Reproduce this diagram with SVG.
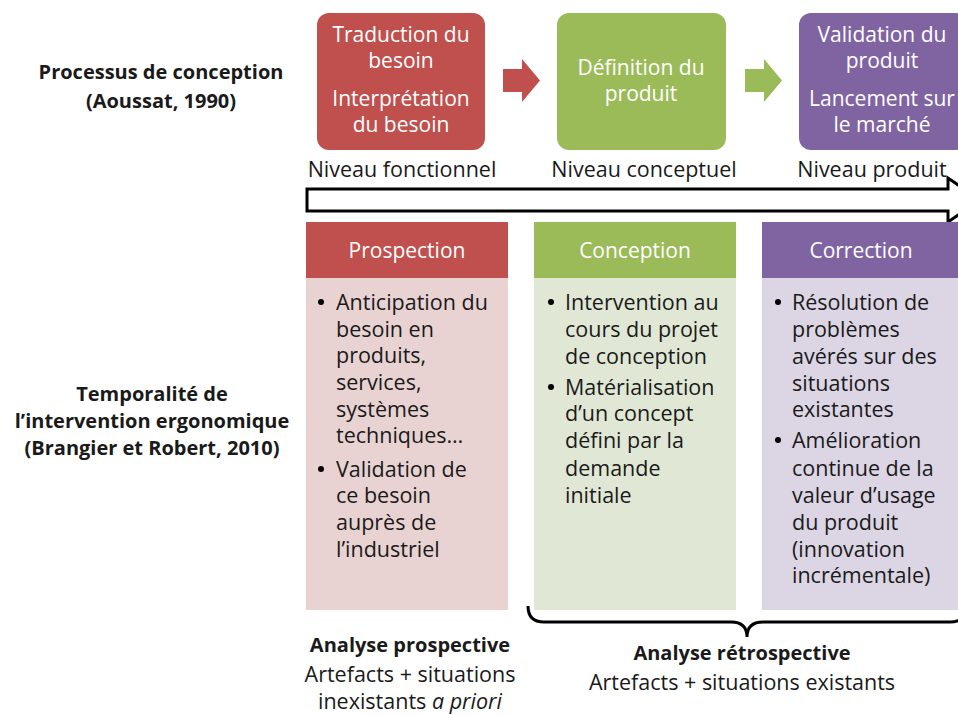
<svg xmlns="http://www.w3.org/2000/svg" width="958" height="715" viewBox="0 0 958 715">
<style>
text{font-family:"Open Sans","Liberation Sans",sans-serif;font-size:21.5px;fill:#1a1a1a}
.b{font-weight:bold;font-size:20px}
.w{fill:#ffffff;font-size:21px}
.c{text-anchor:middle}
.red{fill:#C0504D}.grn{fill:#9BBB59}.pur{fill:#8064A2}
.redl{fill:#E9D3D2}.grnl{fill:#E0E8D5}.purl{fill:#DCD5E4}
.ln{fill:none;stroke:#000;stroke-width:3}
</style>
<rect width="958" height="715" fill="#fff"/>
<g id="label-processus">
<text class="b c" x="161" y="79">Processus de conception</text>
<text class="b c" x="161" y="108">(Aoussat, 1990)</text>
</g>
<g id="label-temporalite">
<text class="b c" x="152" y="401">Temporalité de</text>
<text class="b c" x="152" y="428">l’intervention ergonomique</text>
<text class="b c" x="152" y="455">(Brangier et Robert, 2010)</text>
</g>
<g id="step-traduction">
<rect class="red" x="317" y="13" width="168" height="137" rx="12"/>
<text class="w c" x="401" y="42">Traduction du</text>
<text class="w c" x="401" y="68">besoin</text>
<text class="w c" x="401" y="106">Interprétation</text>
<text class="w c" x="401" y="132">du besoin</text>
<text class="c" x="402" y="177">Niveau fonctionnel</text>
</g>
<g id="step-definition">
<rect class="grn" x="557" y="13" width="169" height="137" rx="12"/>
<text class="w c" x="641" y="75">Définition du</text>
<text class="w c" x="641" y="101">produit</text>
<text class="c" x="644" y="177">Niveau conceptuel</text>
</g>
<g id="step-validation">
<rect class="pur" x="799" y="13" width="169" height="137" rx="12"/>
<text class="w c" x="882" y="42">Validation du</text>
<text class="w c" x="882" y="68">produit</text>
<text class="w c" x="882" y="106">Lancement sur</text>
<text class="w c" x="882" y="132">le marché</text>
<text class="c" x="872" y="177">Niveau produit</text>
</g>
<g id="connectors">
<polygon class="red" points="503,69 522,69 522,59 540,80.5 522,102 522,92 503,92"/>
<polygon class="grn" points="745,69 764,69 764,59 782,80.5 764,102 764,92 745,92"/>
<polygon points="307,189 948,189 948,178 980,200 948,222 948,211 307,211" fill="#fff" stroke="#000" stroke-width="3" stroke-linejoin="miter"/>
<path class="ln" d="M528,606 Q528,622 544,622 L731,622 Q747,622 747,637 Q747,622 763,622 L950,622 Q966,622 966,606"/>
</g>
<g id="col-prospection">
<rect class="redl" x="306" y="222" width="202" height="388"/>
<rect class="red" x="306" y="222" width="202" height="56"/>
<text class="w c" x="407" y="258">Prospection</text>
<circle cx="321" cy="302" r="3"/>
<text x="336" y="310">Anticipation du</text>
<text x="336" y="337">besoin en</text>
<text x="336" y="363">produits,</text>
<text x="336" y="390">services,</text>
<text x="336" y="417">systèmes</text>
<text x="336" y="443">techniques…</text>
<circle cx="321" cy="469" r="3"/>
<text x="336" y="477">Validation de</text>
<text x="336" y="503">ce besoin</text>
<text x="336" y="530">auprès de</text>
<text x="336" y="557">l’industriel</text>
</g>
<g id="col-conception">
<rect class="grnl" x="534" y="222" width="202" height="388"/>
<rect class="grn" x="534" y="222" width="202" height="56"/>
<text class="w c" x="635" y="258">Conception</text>
<circle cx="551" cy="302" r="3"/>
<text x="565" y="310">Intervention au</text>
<text x="565" y="337">cours du projet</text>
<text x="565" y="364">de conception</text>
<circle cx="551" cy="387" r="3"/>
<text x="565" y="395">Matérialisation</text>
<text x="565" y="421">d’un concept</text>
<text x="565" y="448">défini par la</text>
<text x="565" y="476">demande</text>
<text x="565" y="503">initiale</text>
</g>
<g id="col-correction">
<rect class="purl" x="762" y="222" width="206" height="388"/>
<rect class="pur" x="762" y="222" width="206" height="56"/>
<text class="w c" x="861" y="258">Correction</text>
<circle cx="778" cy="302" r="3"/>
<text x="792" y="310">Résolution de</text>
<text x="792" y="337">problèmes</text>
<text x="792" y="364">avérés sur des</text>
<text x="792" y="391">situations</text>
<text x="792" y="417">existantes</text>
<circle cx="778" cy="440" r="3"/>
<text x="792" y="448">Amélioration</text>
<text x="792" y="476">continue de la</text>
<text x="792" y="503">valeur d’usage</text>
<text x="792" y="530">du produit</text>
<text x="792" y="557">(innovation</text>
<text x="792" y="583">incrémentale)</text>
</g>
<g id="label-prospective">
<text class="b c" x="410" y="652">Analyse prospective</text>
<text class="c" x="410" y="682">Artefacts + situations</text>
<text class="c" x="410" y="709">inexistants <tspan font-style="italic">a priori</tspan></text>
</g>
<g id="label-retrospective">
<text class="b c" x="742" y="660">Analyse rétrospective</text>
<text class="c" x="742" y="690">Artefacts + situations existants</text>
</g>
</svg>
